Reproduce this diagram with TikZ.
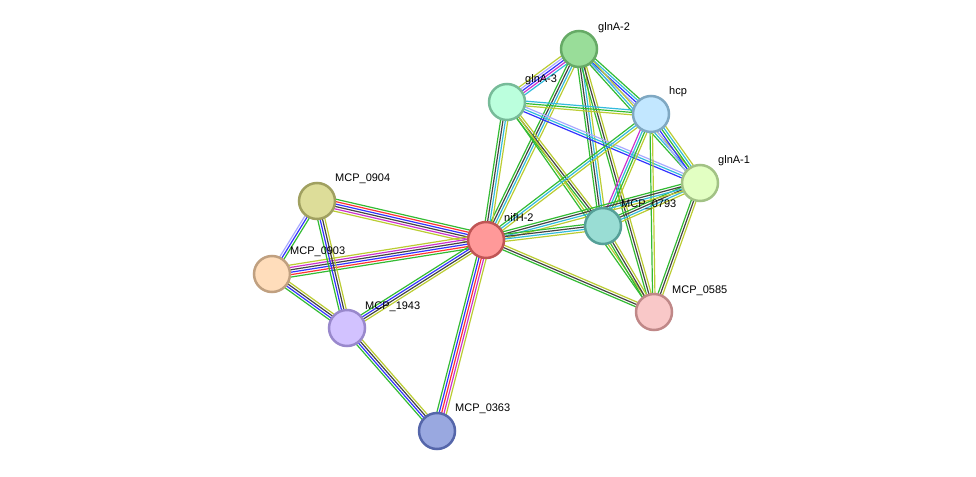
\documentclass[tikz,border=0pt]{standalone}
\usepackage{fontspec}
\setmainfont{Liberation Sans}
\usetikzlibrary{calc,backgrounds}
\definecolor{eg}{HTML}{33BB33}
\definecolor{er}{HTML}{FF3333}
\definecolor{eb}{HTML}{3333FF}
\definecolor{ek}{HTML}{444444}
\definecolor{em}{HTML}{CC33CC}
\definecolor{el}{HTML}{BBCC33}
\definecolor{ec}{HTML}{33BBDD}
\definecolor{ev}{HTML}{AAAAFF}
\definecolor{f1}{HTML}{99DD99}\definecolor{s1}{HTML}{66AA66}
\definecolor{f2}{HTML}{BBFFDD}\definecolor{s2}{HTML}{77BB99}
\definecolor{f3}{HTML}{C2E7FF}\definecolor{s3}{HTML}{7FA8C2}
\definecolor{f4}{HTML}{E2FFC2}\definecolor{s4}{HTML}{A2C285}
\definecolor{f5}{HTML}{DDDD99}\definecolor{s5}{HTML}{A0A060}
\definecolor{f6}{HTML}{FF9999}\definecolor{s6}{HTML}{C05555}
\definecolor{f7}{HTML}{99DDD4}\definecolor{s7}{HTML}{55A098}
\definecolor{f8}{HTML}{FFDDBB}\definecolor{s8}{HTML}{C0A080}
\definecolor{f9}{HTML}{F9C8C8}\definecolor{s9}{HTML}{C08888}
\definecolor{f10}{HTML}{D2C2FF}\definecolor{s10}{HTML}{9988CC}
\definecolor{f11}{HTML}{99A8E0}\definecolor{s11}{HTML}{5566AA}
\newcommand\sedge[3]{%
 \foreach \c [count=\n] in {#3}{\xdef\ecount{\n}}%
 \foreach \c [count=\i] in {#3}{%
   \pgfmathsetmacro\off{(\i-(\ecount+1)/2)*2.4}%
   \draw[draw=\c, line width=1.2pt] ($(#1)!\off pt!90:(#2)$) -- ($(#2)!\off pt!-90:(#1)$);}}
\tikzset{prot/.style={circle, minimum size=36pt, inner sep=0pt, line width=2.5pt, fill=f#1, draw=s#1},
 lab/.style={anchor=west, font=\fontsize{11}{13}\selectfont, inner sep=0pt}}
\begin{document}
\begin{tikzpicture}[x=1pt,y=-1pt]
\useasboundingbox (0,0) rectangle (976,476);
\node[prot=1] (ga2) at (579,49) {};
\node[prot=2] (ga3) at (507,102) {};
\node[prot=3] (hcp) at (651,114) {};
\node[prot=4] (ga1) at (700,183) {};
\node[prot=5] (m904) at (317,201) {};
\node[prot=6] (nif) at (486,240) {};
\node[prot=7] (m793) at (603,226) {};
\node[prot=8] (m903) at (272,274) {};
\node[prot=9] (m585) at (654,312) {};
\node[prot=10] (m1943) at (347,328) {};
\node[prot=11] (m363) at (437,431) {};
\begin{scope}[on background layer]
\sedge{nif}{m904}{eg,er,eb,ek,em,el}
\sedge{nif}{m903}{el,em,ek,eb,er,eg}
\sedge{nif}{m1943}{eg,eb,ek,el}
\sedge{nif}{m363}{eg,eb,er,em,el}
\sedge{m904}{m903}{ev,eb,eg}
\sedge{m904}{m1943}{eg,eb,ek,el}
\sedge{m903}{m1943}{eg,eb,ek,el}
\sedge{m1943}{m363}{eg,eb,ek,el}
\sedge{ga2}{ga3}{el,ev,eb,em,ec}
\sedge{ga2}{hcp}{ev,eb,ec,eg}
\sedge{ga2}{ga1}{eg,ec,el}
\sedge{ga2}{m793}{eg,ek,ec,el}
\sedge{ga2}{m585}{eg,ek,el}
\sedge{ga2}{nif}{eg,ek,ec,el}
\sedge{ga3}{hcp}{el,eg,ec}
\sedge{ga3}{ga1}{eb,ec,ev}
\sedge{ga3}{m793}{eg,ek,el}
\sedge{ga3}{m585}{eg,el}
\sedge{ga3}{nif}{eg,ek,ec,el}
\sedge{hcp}{ga1}{ev,eb,eg,ec,el}
\sedge{hcp}{m793}{em,ec,eg,el}
\sedge{hcp}{m585}{eg,el}
\sedge{hcp}{nif}{eg,ec,el}
\sedge{ga1}{m793}{eg,ek,ec,el}
\sedge{ga1}{m585}{eg,ek,el}
\sedge{ga1}{nif}{eg,ek,ec,el}
\sedge{m793}{nif}{eg,ek,ec,el}
\sedge{m793}{m585}{eg,ek,el}
\sedge{nif}{m585}{eg,ek,el}
\end{scope}
\node[lab] (t1) at (598,28) {glnA-2};
\node[lab] (t2) at (525,80) {glnA-3};
\node[lab] (t3) at (669,92) {hcp};
\node[lab] (t4) at (718,161) {glnA-1};
\node[lab] (t5) at (335,179) {MCP\_0904};
\node[lab] (t6) at (504,218) {nifH-2};
\node[lab] (t7) at (621,205) {MCP\_0793};
\node[lab] (t8) at (290,252) {MCP\_0903};
\node[lab] (t9) at (672,291) {MCP\_0585};
\node[lab] (t10) at (365,307) {MCP\_1943};
\node[lab] (t11) at (455,409) {MCP\_0363};
\end{tikzpicture}
\end{document}
